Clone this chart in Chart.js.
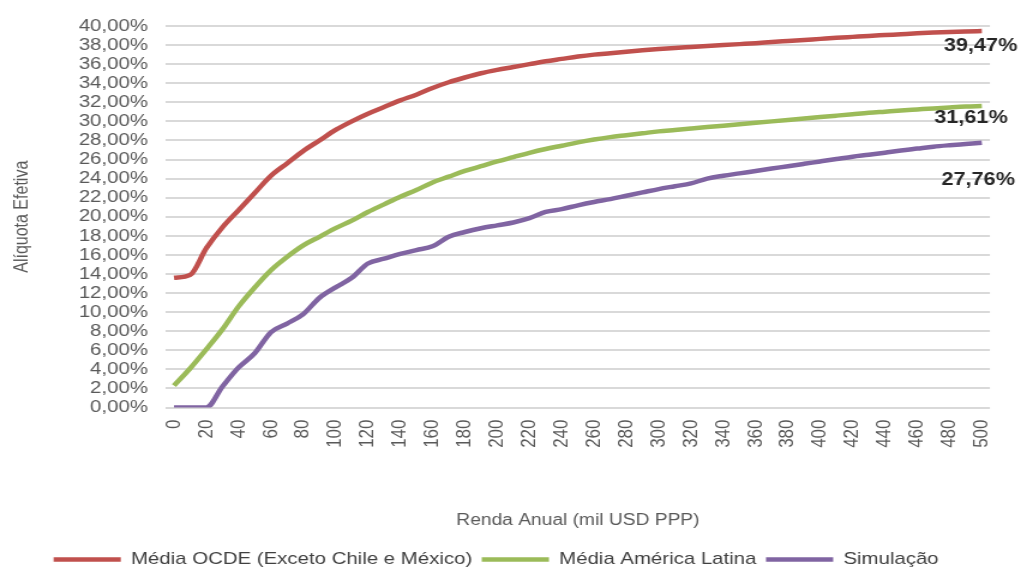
<!DOCTYPE html>
<html lang="pt-BR">
<head>
<meta charset="utf-8">
<title>Alíquota Efetiva por Renda Anual</title>
<script src="https://cdn.jsdelivr.net/npm/chart.js@4.4.1/dist/chart.umd.min.js"></script>
<style>
  html, body { margin: 0; padding: 0; background: #ffffff; }
  canvas { display: block; }
</style>
</head>
<body>
<!-- drawn at 851px wide and widened to 1021px to give the wide lettering -->
<canvas id="chart" width="851" height="572" style="width:1021px;height:572px"></canvas>
<script>
// Renda anual (mil USD PPP)
const rendaAnual = [
  '0','10','20','30','40','50','60','70','80','90',
  '100','110','120','130','140','150','160','170','180','190',
  '200','210','220','230','240','250','260','270','280','290',
  '300','310','320','330','340','350','360','370','380','390',
  '400','410','420','430','440','450','460','470','480','490',
  '500'
];

// Alíquota efetiva (%)
const mediaOcde = [
  13.6, 13.9, 16.7, 18.9, 20.7, 22.5, 24.3, 25.6, 26.9, 28.0,
  29.1, 30.0, 30.8, 31.5, 32.2, 32.8, 33.5, 34.1, 34.6, 35.05,
  35.4, 35.7, 36.0, 36.3, 36.55, 36.8, 37.0, 37.15, 37.3, 37.45,
  37.58, 37.7, 37.8, 37.9, 38.0, 38.1, 38.2, 38.32, 38.43, 38.54,
  38.65, 38.76, 38.86, 38.96, 39.05, 39.14, 39.23, 39.31, 39.38, 39.43,
  39.47
];
const mediaAmericaLatina = [
  2.3, 4.1, 6.1, 8.2, 10.6, 12.6, 14.4, 15.8, 17.0, 17.9,
  18.8, 19.6, 20.5, 21.3, 22.1, 22.8, 23.6, 24.2, 24.8, 25.3,
  25.8, 26.25, 26.7, 27.1, 27.45, 27.8, 28.1, 28.35, 28.55, 28.75,
  28.95, 29.1, 29.25, 29.4, 29.55, 29.7, 29.85, 30.0, 30.15, 30.3,
  30.45, 30.6, 30.75, 30.9, 31.02, 31.14, 31.25, 31.36, 31.46, 31.55,
  31.61
];
const simulacao = [
  0, 0, 0, 2.2, 4.2, 5.7, 7.9, 8.8, 9.8, 11.5,
  12.6, 13.6, 15.1, 15.6, 16.1, 16.5, 16.9, 17.9, 18.4, 18.8,
  19.1, 19.4, 19.85, 20.5, 20.8, 21.2, 21.55, 21.85, 22.2, 22.55,
  22.9, 23.2, 23.5, 24.0, 24.3, 24.55, 24.8, 25.05, 25.3, 25.55,
  25.8, 26.05, 26.3, 26.5, 26.72, 26.95, 27.15, 27.35, 27.5, 27.63,
  27.76
];

const seriesNames = ['Média OCDE (Exceto Chile e México)', 'Média América Latina', 'Simulação'];

// y axis: 0,00% .. 40,00% every 2 points
const yMin = 0, yMax = 40, yStep = 2;

const FONT = '"Liberation Sans", Arial, Helvetica, sans-serif';
const TEXT_GRAY = '#595959';
const colors = ['#C0504D', '#9BBB59', '#8064A2'];

const fmtPct = v => v.toFixed(2).replace('.', ',') + '%';

// where the closing value of each line is written, relative to its last point
const endLabelOffsets = [
  { dx: -1, dy: 15 },
  { dx: -9, dy: 12 },
  { dx: -3, dy: 37 }
];

const endLabelPlugin = {
  id: 'endLabels',
  afterDatasetsDraw(chart) {
    const ctx = chart.ctx;
    ctx.save();
    ctx.font = 'bold 18px ' + FONT;
    ctx.fillStyle = '#262626';
    ctx.textAlign = 'center';
    ctx.textBaseline = 'middle';
    chart.data.datasets.forEach((ds, i) => {
      const meta = chart.getDatasetMeta(i);
      const pt = meta.data[meta.data.length - 1];
      const v = ds.data[ds.data.length - 1];
      const o = endLabelOffsets[i];
      ctx.fillText(fmtPct(v), pt.x + o.dx, pt.y + o.dy);
    });
    ctx.restore();
  }
};

const lineDataset = (label, data, color) => ({
  label,
  data,
  borderColor: color,
  backgroundColor: color,
  borderWidth: 4.5,
  pointRadius: 0,
  pointHoverRadius: 0,
  pointStyle: 'line',
  cubicInterpolationMode: 'monotone',
  fill: false
});

new Chart(document.getElementById('chart'), {
  type: 'line',
  data: {
    labels: rendaAnual,
    datasets: [
      lineDataset(seriesNames[0], mediaOcde, colors[0]),
      lineDataset(seriesNames[1], mediaAmericaLatina, colors[1]),
      lineDataset(seriesNames[2], simulacao, colors[2])
    ]
  },
  options: {
    responsive: false,
    devicePixelRatio: 1,
    animation: false,
    layout: { padding: { top: 26, right: 24, bottom: -6, left: 0 } },
    plugins: {
      tooltip: { enabled: false },
      legend: {
        position: 'bottom',
        labels: {
          usePointStyle: true,
          pointStyle: 'line',
          pointStyleWidth: 56,
          padding: 8,
          color: '#404040',
          font: { family: FONT, size: 17 }
        }
      }
    },
    scales: {
      x: {
        type: 'category',
        offset: true,
        grid: { display: false, drawTicks: false },
        border: { display: false },
        afterFit(scale) { scale.height = 135.5; },
        ticks: {
          autoSkip: false,
          minRotation: 90,
          maxRotation: 90,
          padding: 12,
          color: TEXT_GRAY,
          font: { family: FONT, size: 17 },
          callback(value, index) { return index % 2 === 0 ? this.getLabelForValue(value) : ''; }
        },
        title: {
          display: true,
          text: 'Renda Anual (mil USD PPP)',
          color: TEXT_GRAY,
          font: { family: FONT, size: 16 },
          padding: { top: 0, bottom: 13 }
        }
      },
      y: {
        min: yMin,
        max: yMax,
        grid: { color: '#d9d9d9', lineWidth: 2, drawTicks: false },
        border: { display: false },
        afterFit(scale) { scale.width = 138.3; },
        ticks: {
          stepSize: yStep,
          autoSkip: false,
          padding: 15,
          color: TEXT_GRAY,
          font: { family: FONT, size: 17 },
          callback: v => fmtPct(v)
        },
        title: {
          display: true,
          text: 'Alíquota Efetiva',
          color: TEXT_GRAY,
          font: { family: FONT, size: 16 },
          padding: { top: 9, bottom: 0 }
        }
      }
    }
  },
  plugins: [endLabelPlugin]
});
</script>
</body>
</html>
